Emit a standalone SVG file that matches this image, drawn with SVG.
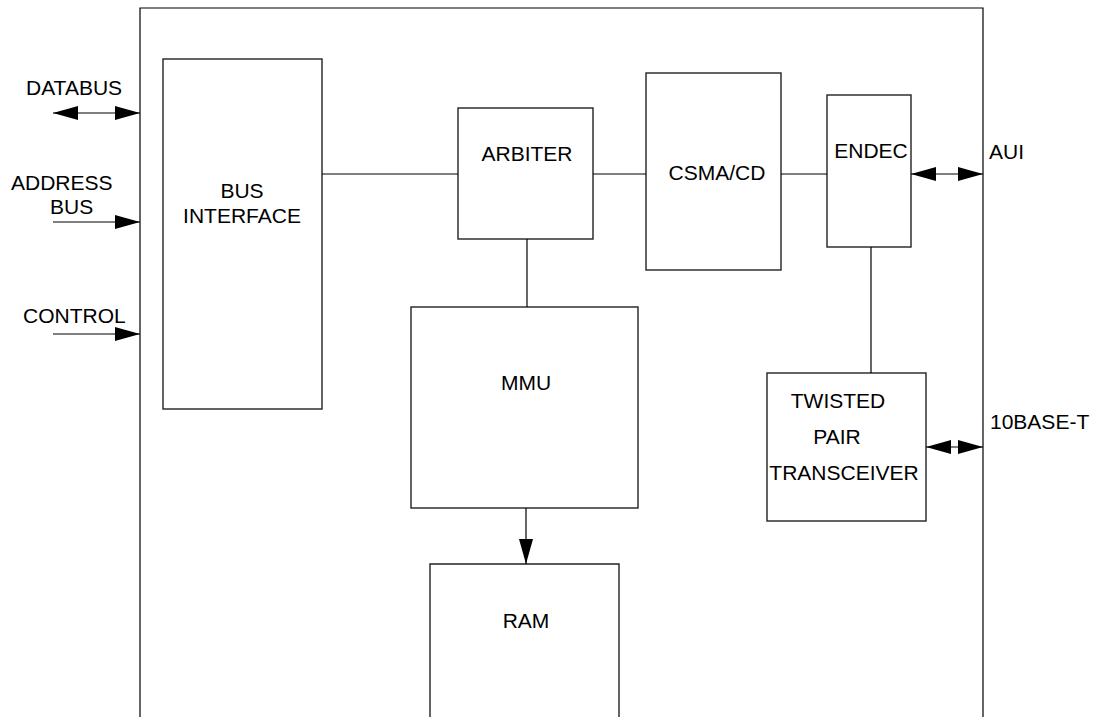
<svg xmlns="http://www.w3.org/2000/svg" width="1097" height="717" viewBox="0 0 1097 717">
<style>
.box{fill:#fff;stroke:#222;stroke-width:1.4}
.ln{fill:none;stroke:#000;stroke-width:1.2}
text{font-family:"Liberation Sans",Arial,sans-serif;font-size:21px;fill:#000}
.c{text-anchor:middle}
</style>
<defs>
<marker id="ah" markerUnits="userSpaceOnUse" viewBox="0 0 25 14" markerWidth="25" markerHeight="14" refX="25" refY="7" orient="auto-start-reverse">
<path d="M0,0 L25,7 L0,14 z" fill="#000"/>
</marker>
</defs>
<rect width="1097" height="717" fill="#fff"/>
<g id="frame">
<path class="ln" d="M140,717 V8 H983 V717" stroke="#222"/>
</g>
<g id="bus_interface">
<rect class="box" x="163" y="59" width="159" height="350"/>
<text class="c" x="242" y="198">BUS</text>
<text class="c" x="242" y="223">INTERFACE</text>
</g>
<g id="arbiter">
<rect class="box" x="458" y="108" width="135" height="131"/>
<text class="c" x="527" y="161">ARBITER</text>
</g>
<g id="csma_cd">
<rect class="box" x="646" y="73" width="135" height="197"/>
<text class="c" x="717" y="180">CSMA/CD</text>
</g>
<g id="endec">
<rect class="box" x="827" y="95" width="84" height="152"/>
<text class="c" x="871" y="158">ENDEC</text>
</g>
<g id="twisted_pair">
<rect class="box" x="767" y="373" width="159" height="148"/>
<text class="c" x="838" y="408">TWISTED</text>
<text class="c" x="837" y="444">PAIR</text>
<text class="c" x="844" y="480">TRANSCEIVER</text>
</g>
<g id="mmu">
<rect class="box" x="411" y="307" width="227" height="201"/>
<text class="c" x="526" y="390">MMU</text>
</g>
<g id="ram">
<path class="box" d="M430,717 V564 H619 V717"/>
<text class="c" x="526" y="628">RAM</text>
</g>
<g id="labels">
<text x="26" y="95">DATABUS</text>
<text x="11" y="190">ADDRESS</text>
<text x="50" y="214">BUS</text>
<text x="23" y="323">CONTROL</text>
<text x="989" y="159">AUI</text>
<text x="990" y="429">10BASE-T</text>
</g>
<g id="connectors">
<line class="ln" x1="53" y1="113" x2="140" y2="113" marker-start="url(#ah)" marker-end="url(#ah)"/>
<line class="ln" x1="53" y1="222" x2="140" y2="222" marker-end="url(#ah)"/>
<line class="ln" x1="53" y1="334" x2="140" y2="334" marker-end="url(#ah)"/>
<line class="ln" x1="322" y1="174" x2="458" y2="174"/>
<line class="ln" x1="593" y1="174" x2="646" y2="174"/>
<line class="ln" x1="781" y1="174" x2="827" y2="174"/>
<line class="ln" x1="911" y1="174" x2="983" y2="174" marker-start="url(#ah)" marker-end="url(#ah)"/>
<line class="ln" x1="871" y1="247" x2="871" y2="373"/>
<line class="ln" x1="926" y1="447" x2="983" y2="447" marker-start="url(#ah)" marker-end="url(#ah)"/>
<line class="ln" x1="527" y1="239" x2="527" y2="307"/>
<line class="ln" x1="526" y1="508" x2="526" y2="564" marker-end="url(#ah)"/>
</g>
</svg>
